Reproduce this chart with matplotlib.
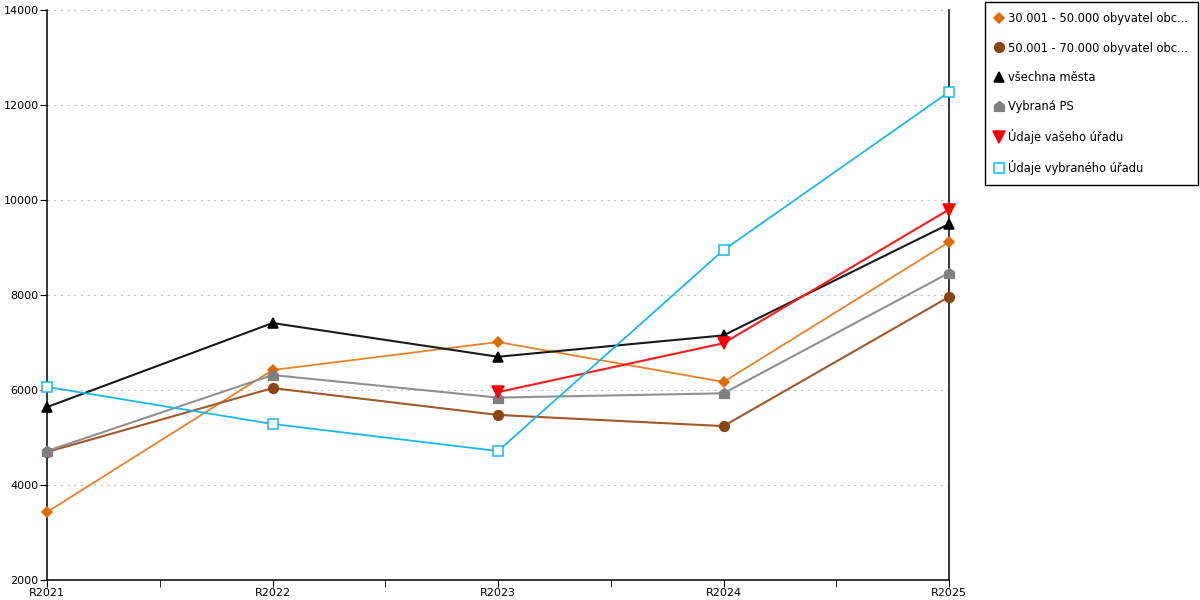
import matplotlib
matplotlib.use("Agg")
import matplotlib.pyplot as plt
from matplotlib.lines import Line2D
from matplotlib.path import Path

# data
years = ["R2021", "R2022", "R2023", "R2024", "R2025"]
obce_30_50 = [3430, 6420, 7010, 6170, 9115]
obce_50_70 = [4695, 6040, 5475, 5240, 7960]
vsechna_mesta = [5640, 7410, 6700, 7150, 9495]
vybrana_ps = [4715, 6315, 5840, 5930, 8465]
vas_urad = [None, None, 5955, 6985, 9800]
vybrany_urad = [6065, 5285, 4715, 8945, 12275]

labels = ["30.001 - 50.000 obyvatel obc...", "50.001 - 70.000 obyvatel obc...",
          "všechna města", "Vybraná PS", "Údaje vašeho úřadu", "Údaje vybraného úřadu"]

# little house marker for "Vybraná PS"
house = Path([(-1, -1), (1, -1), (1, 0.25), (0, 1), (-1, 0.25), (-1, -1)],
             [Path.MOVETO, Path.LINETO, Path.LINETO, Path.LINETO, Path.LINETO, Path.CLOSEPOLY])

styles = [
    dict(color="#e8812a", marker="D", mfc="#e06c00", mec="#e06c00", ms=5, lw=1.3),
    dict(color="#a0582a", marker="o", mfc="#8b4513", mec="#8b4513", ms=7, lw=1.5),
    dict(color="#1a1a1a", marker="^", mfc="black", mec="black", ms=7, lw=1.5),
    dict(color="#909090", marker=house, mfc="#808080", mec="#808080", ms=7, lw=1.5),
    dict(color="#ff1a1a", marker="v", mfc="red", mec="red", ms=8, lw=1.5),
    dict(color="#1ab8ea", marker="s", mfc="white", mec="#1ab8ea", ms=7, lw=1.3),
]
series = [obce_30_50, obce_50_70, vsechna_mesta, vybrana_ps, vas_urad, vybrany_urad]

fig = plt.figure(figsize=(12, 6), dpi=100)
ax = fig.add_axes([47 / 1200, 20 / 600, 902 / 1200, 570 / 600])

x = list(range(len(years)))
for vals, st in zip(series, styles):
    xs = [i for i, v in zip(x, vals) if v is not None]
    ys = [v for v in vals if v is not None]
    ax.plot(xs, ys, color=st["color"], lw=st["lw"], marker=st["marker"],
            markerfacecolor=st["mfc"], markeredgecolor=st["mec"], markersize=st["ms"],
            markeredgewidth=1.1, clip_on=False, zorder=3)

ax.set_xlim(0, 4)
ax.set_ylim(2000, 14000)
ax.set_yticks(range(2000, 14001, 2000))
ax.set_xticks(x)
ax.set_xticklabels(years)
ax.set_xticks([0.5, 1.5, 2.5, 3.5], minor=True)
ax.tick_params(axis="x", which="both", length=5, direction="out", labelsize=8, pad=0.5)
ax.tick_params(axis="y", length=5, labelsize=8, pad=1)
ax.grid(axis="y", color="#c0c0c0", linestyle=(0, (2, 4)), lw=0.8)
ax.spines["top"].set_visible(False)
for s in ["left", "right", "bottom"]:
    ax.spines[s].set_linewidth(1.1)

handles = [Line2D([], [], ls="none", marker=st["marker"], markerfacecolor=st["mfc"],
                  markeredgecolor=st["mec"], markersize=st["ms"], markeredgewidth=1.1)
           for st in styles]
leg = fig.legend(handles, labels, loc="upper left", bbox_to_anchor=(985 / 1200, 1 - 2 / 600),
                 fancybox=False, edgecolor="black", framealpha=1, fontsize=8.3,
                 handlelength=0.7, handletextpad=0.4, labelspacing=1.4,
                 borderpad=0.9, borderaxespad=0)
leg.get_frame().set_linewidth(1.0)

fig.savefig("out.png", dpi=100)
